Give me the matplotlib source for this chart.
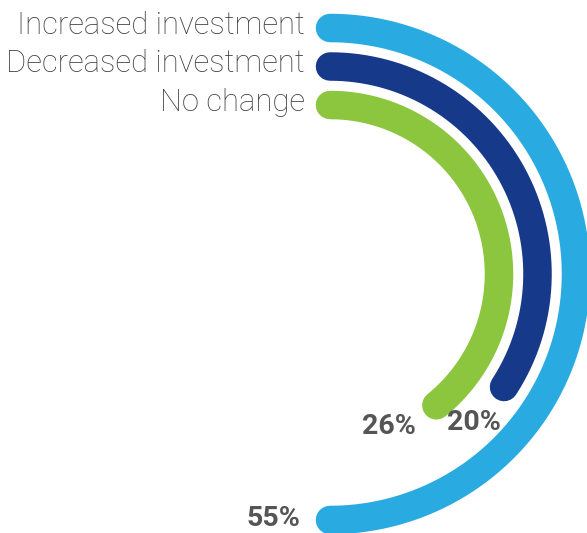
import numpy as np
import matplotlib
matplotlib.use("Agg")
import matplotlib.pyplot as plt

# --- Data ---
categories = ["Increased investment", "Decreased investment", "No change"]
shares = [55, 20, 26]
colors = ["#29abe2", "#17398a", "#8cc63f"]

# the rings use a stretched angular scale: percent -> degrees of sweep (clockwise from 12 o'clock)
scale_pct = [0, 20, 26, 55]
scale_deg = [0, 123, 141, 180]

# --- Layout (pixels) ---
W, H = 587, 533
cx, cy = 330, H - 274          # ring centre
ring_r = [246, 207.5, 169]     # centre-line radius of each ring
ring_w = 28.5                  # ring thickness
label_offsets = [(-57, 1), (-30, -35), (-47, -21)]

text_grey = "#555555"

fig = plt.figure(figsize=(W / 100, H / 100), dpi=100)
rmax = ring_r[0]
ax = fig.add_axes([(cx - rmax) / W, (cy - rmax) / H, 2 * rmax / W, 2 * rmax / H],
                  projection="polar")
ax.set_theta_zero_location("N")
ax.set_theta_direction(-1)
ax.set_ylim(0, rmax)
ax.axis("off")

lw_pt = ring_w * 72 / 100

for name, val, col, r, (dx, dy) in zip(categories, shares, colors, ring_r, label_offsets):
    sweep = np.deg2rad(np.interp(val, scale_pct, scale_deg))
    theta = np.linspace(0, sweep, 200)
    ax.plot(theta, np.full_like(theta, r), color=col, lw=lw_pt,
            solid_capstyle="round", clip_on=False)

    # category name to the left of the ring start
    ax.annotate(name, xy=(0, r), xytext=(-25, -6), textcoords="offset pixels",
                ha="right", va="baseline", fontsize=22.3, fontfamily="Roboto",
                fontweight="light", color="#3f3f3f", annotation_clip=False)

    # percentage near the end of the ring
    ax.annotate(f"{val}%", xy=(sweep, r), xytext=(dx, dy), textcoords="offset pixels",
                ha="center", va="center", fontsize=20.5, fontfamily="Roboto",
                fontweight="bold", color=text_grey, annotation_clip=False)

fig.savefig("out.png", dpi=100)
